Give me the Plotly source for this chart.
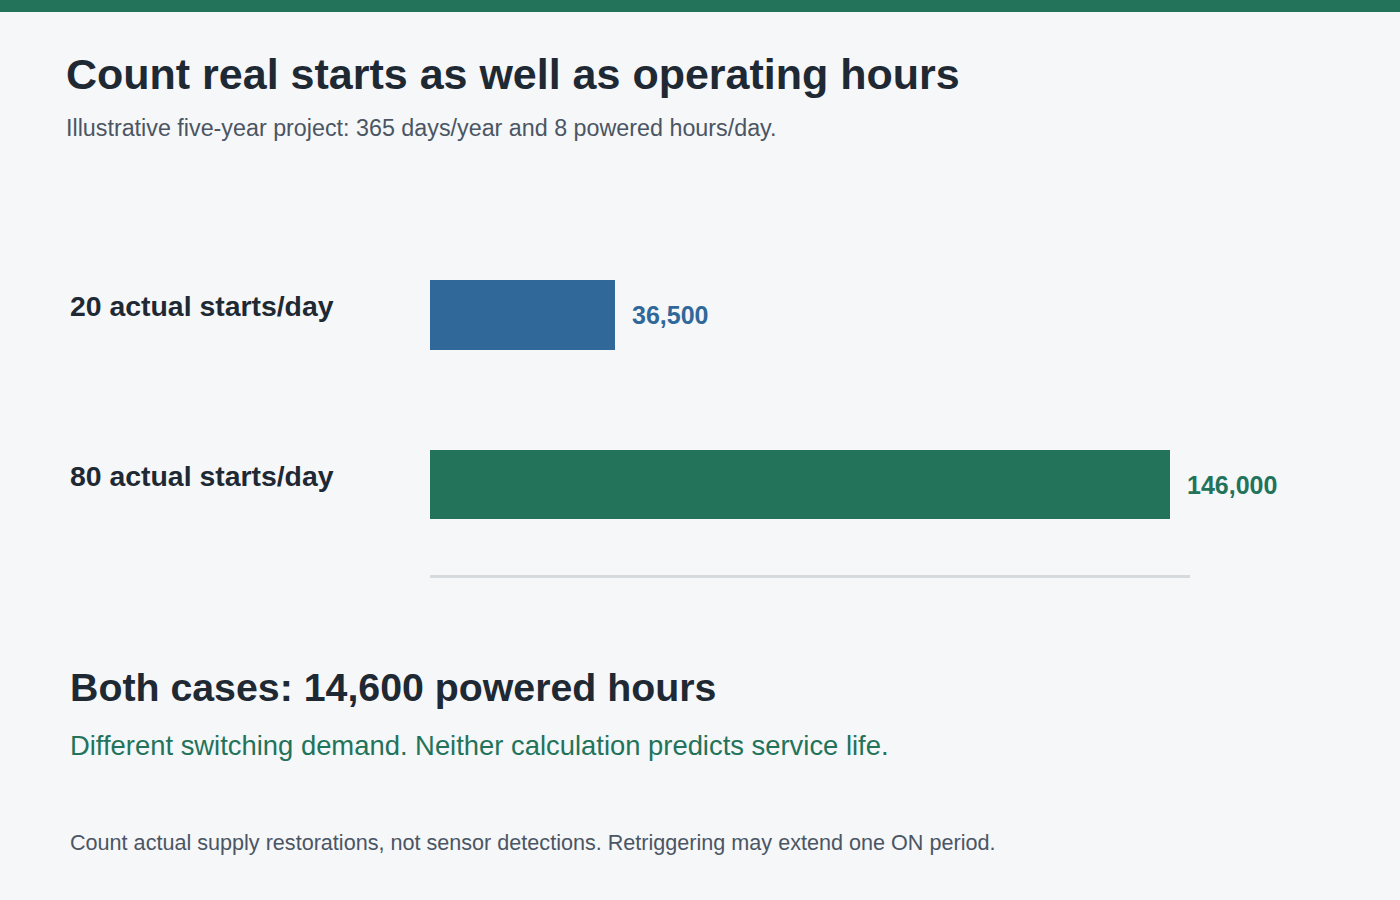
import plotly.graph_objects as go

# ---- data ----
categories = ["20 actual starts/day", "80 actual starts/day"]
starts_total = [36500, 146000]
value_labels = ["36,500", "146,000"]
bar_colors = ["#2f6899", "#22735a"]

title_text = "Count real starts as well as operating hours"
subtitle_text = "Illustrative five-year project: 365 days/year and 8 powered hours/day."
summary_text = "Both cases: 14,600 powered hours"
summary_sub_text = "Different switching demand. Neither calculation predicts service life."
footnote_text = "Count actual supply restorations, not sensor detections. Retriggering may extend one ON period."

# ---- layout geometry (pixels) ----
W, H = 1400, 900
L, R, T, B = 430, 210, 230, 325
PW, PH = W - L - R, H - T - B

def px(x):
    return (x - L) / PW

def py(y):
    return (H - B - y) / PH

FONT = "Liberation Sans, Arial, Helvetica, sans-serif"
DARK = "#1f2933"
GRAY = "#4b5563"
GREEN = "#22735a"
BG = "#f5f7f9"

fig = go.Figure()
fig.add_trace(go.Bar(
    x=starts_total,
    y=categories,
    orientation="h",
    marker=dict(color=bar_colors, line=dict(width=0)),
    width=0.41,
    hoverinfo="skip",
))

annotations = []
for cat, val, lab, col in zip(categories, starts_total, value_labels, bar_colors):
    annotations.append(dict(
        x=val, y=cat, xref="x", yref="y", text=f"<b>{lab}</b>",
        showarrow=False, xanchor="left", yanchor="middle", xshift=15,
        font=dict(family=FONT, size=25, color=col),
    ))
    annotations.append(dict(
        x=px(68), y=cat, xref="paper", yref="y", text=f"<b>{cat}</b>",
        showarrow=False, xanchor="left", yanchor="middle", yshift=8.5,
        font=dict(family=FONT, size=28.4, color=DARK),
    ))

texts = [
    (title_text, 64, 74.1, 43, DARK, True),
    (subtitle_text, 64, 128, 23.3, GRAY, False),
    (summary_text, 68, 687.2, 39.3, DARK, True),
    (summary_sub_text, 68, 745.6, 27.4, GREEN, False),
    (footnote_text, 68, 842.6, 21.6, GRAY, False),
]
for txt, x, y, size, col, bold in texts:
    annotations.append(dict(
        x=px(x), y=py(y), xref="paper", yref="paper",
        text=f"<b>{txt}</b>" if bold else txt,
        showarrow=False, xanchor="left", yanchor="middle",
        font=dict(family=FONT, size=size, color=col),
    ))

fig.update_layout(
    width=W, height=H,
    margin=dict(l=L, r=R, t=T, b=B, pad=0),
    paper_bgcolor=BG, plot_bgcolor=BG,
    showlegend=False,
    bargap=0,
    xaxis=dict(range=[0, 150000], showgrid=False, zeroline=False,
               showticklabels=False, ticks="", showline=True,
               linecolor="#d5dadf", linewidth=2.5, fixedrange=True),
    yaxis=dict(type="category", categoryorder="array", categoryarray=categories,
               range=[1.532, -0.5], showgrid=False, zeroline=False,
               showticklabels=False, ticks="", showline=False, fixedrange=True),
    annotations=annotations,
    shapes=[dict(type="rect", xref="paper", yref="paper",
                 x0=px(0), x1=px(W), y0=py(12), y1=py(0),
                 fillcolor=GREEN, line=dict(width=0), layer="above")],
)

fig.write_html("out.html", config={"displayModeBar": False},
               post_script="document.body.style.margin='0';document.body.style.background='" + BG + "';")
